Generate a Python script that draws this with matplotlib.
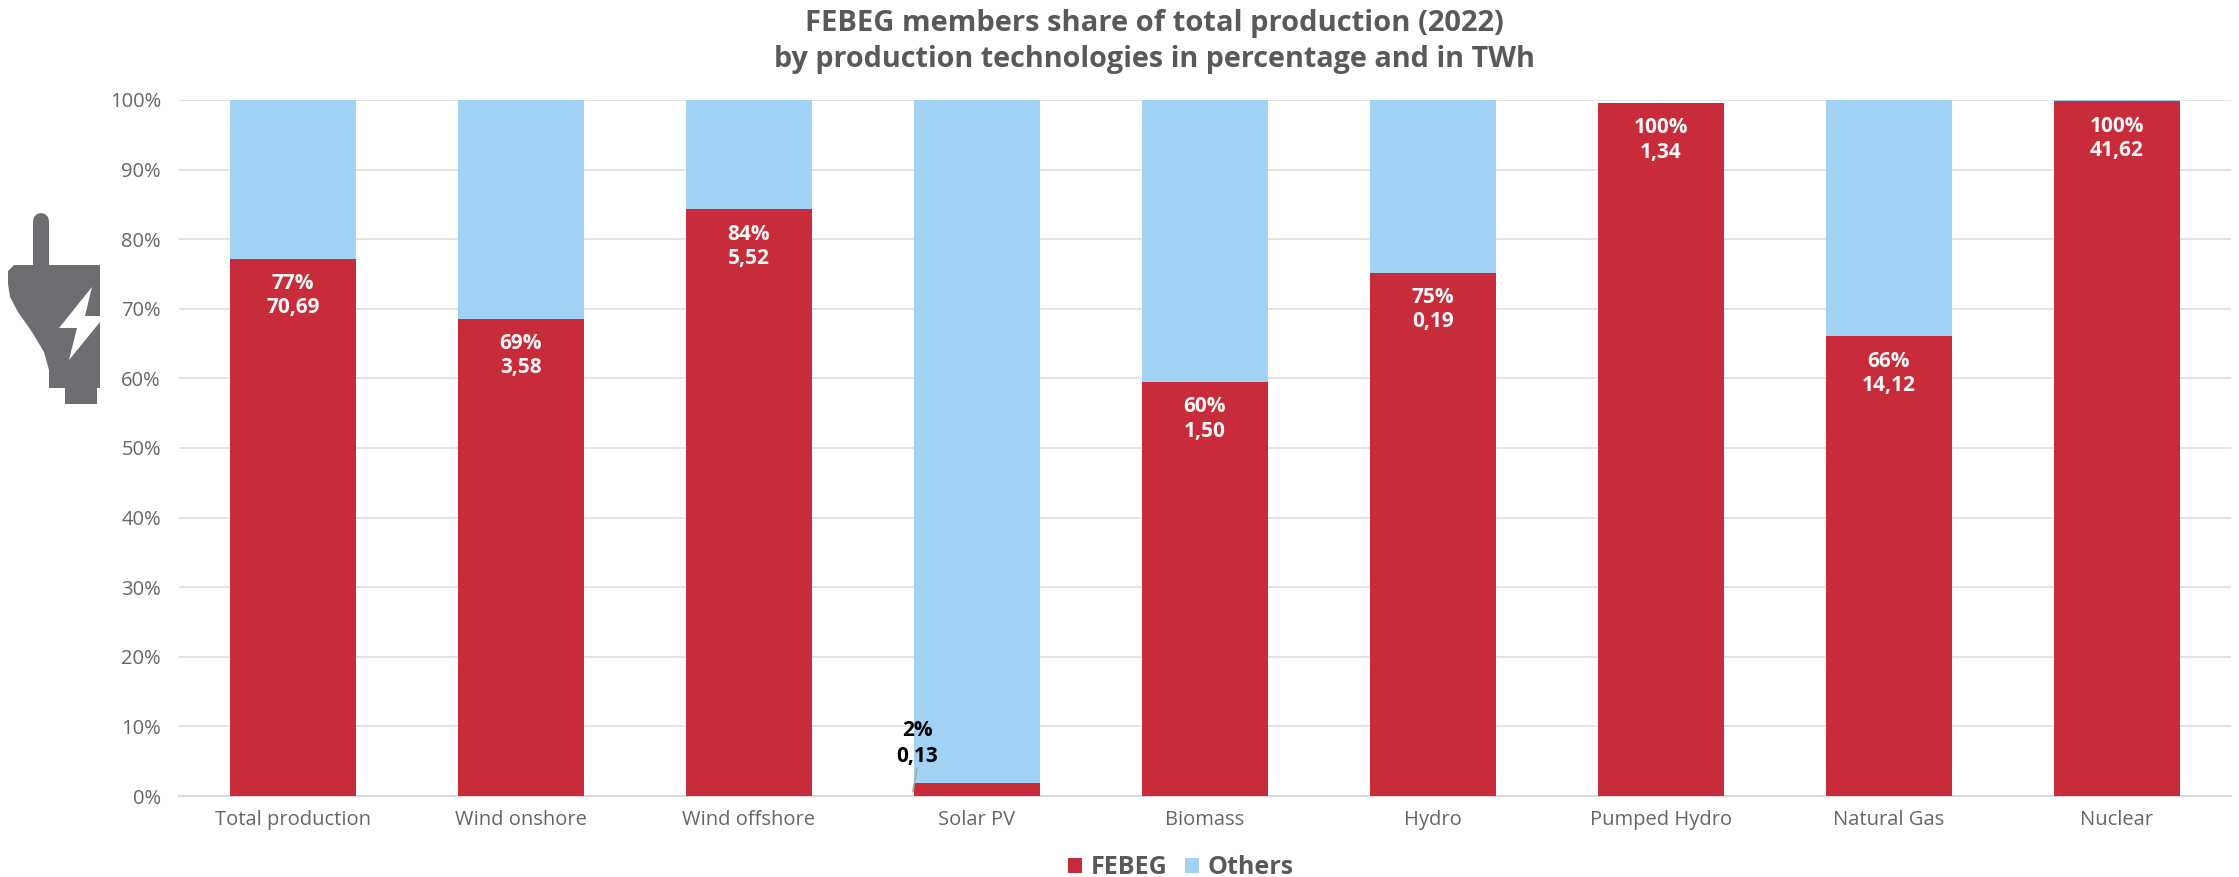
import matplotlib
matplotlib.use('Agg')
import matplotlib.pyplot as plt
from matplotlib.patches import Polygon, Rectangle
import numpy as np

# data
categories = ['Total production', 'Wind onshore', 'Wind offshore', 'Solar PV', 'Biomass',
              'Hydro', 'Pumped Hydro', 'Natural Gas', 'Nuclear']
febeg = [77.2, 68.6, 84.3, 1.8, 59.5, 75.2, 99.6, 66.1, 99.8]
others = [22.8, 31.4, 15.7, 98.2, 40.5, 24.8, 0.0, 33.9, 0.2]
pct_labels = ['77%', '69%', '84%', '2%', '60%', '75%', '100%', '66%', '100%']
twh_labels = ['70,69', '3,58', '5,52', '0,13', '1,50', '0,19', '1,34', '14,12', '41,62']

W, H = 2239, 877
RED = '#c82b39'
BLUE = '#a2d2f3'
GREY = '#595959'

plt.rcParams['font.family'] = ['Open Sans', 'DejaVu Sans']

fig = plt.figure(figsize=(W / 100, H / 100), dpi=100)
# axes placed in pixels of the reference
ax = fig.add_axes([179 / W, 1 - 796 / H, (2231 - 179) / W, (796 - 100) / H])

x = np.arange(len(categories))
ax.bar(x, febeg, width=0.553, color=RED, zorder=3, label='FEBEG')
ax.bar(x, others, width=0.553, bottom=febeg, color=BLUE, zorder=3, label='Others')

ax.set_xlim(-0.5, len(categories) - 0.5)
ax.set_ylim(0, 100)
ax.set_yticks(np.arange(0, 101, 10))
ax.set_yticklabels([str(v) + '%' for v in range(0, 101, 10)], fontsize=14.5, color='#666666')
ax.set_xticks(x)
ax.set_xticklabels(categories, fontsize=14.5, color='#666666')
ax.tick_params(axis='both', length=0)
ax.tick_params(axis='x', pad=10)
ax.tick_params(axis='y', pad=13)
ax.grid(axis='y', color='#e3e3e3', linewidth=1.4, zorder=0)
for s in ['top', 'right', 'left']:
    ax.spines[s].set_visible(False)
ax.spines['bottom'].set_color('#d9d9d9')
ax.spines['bottom'].set_linewidth(1.6)

# labels inside the bars
for i in range(len(categories)):
    if i == 3:
        continue
    ax.annotate(pct_labels[i] + '\n' + twh_labels[i], (x[i], febeg[i]), xytext=(0, -10.5),
                textcoords='offset points', ha='center', va='top', color='#f6f6f6',
                fontsize=15, fontweight='bold', linespacing=1.2, zorder=5)

# solar label sits outside, with a leader line
ax.text(917 / W, 1 - 767 / H, pct_labels[3] + '\n' + twh_labels[3], transform=fig.transFigure,
        ha='center', va='bottom', color='black', fontsize=15, fontweight='bold',
        linespacing=1.3, zorder=5)
ax.annotate('', (x[3] - 0.281, 0.6), xytext=(917 / W, 1 - 768 / H), textcoords='figure fraction',
            arrowprops=dict(arrowstyle='-', color='#a6a6a6', lw=1.2, shrinkA=0, shrinkB=0), zorder=5)

fig.text(1154 / W, 1 - 24 / H, 'FEBEG members share of total production (2022)',
         ha='center', va='center', fontsize=21, fontweight='bold', color=GREY)
fig.text(1154 / W, 1 - 60 / H, 'by production technologies in percentage and in TWh',
         ha='center', va='center', fontsize=20.7, fontweight='bold', color=GREY)

leg = ax.legend(loc='center', bbox_to_anchor=(1181 / W, 1 - 868 / H), bbox_transform=fig.transFigure,
                ncol=2, frameon=False, fontsize=18, handlelength=0.55, handleheight=0.55,
                handletextpad=0.35, columnspacing=0.7, borderpad=0)
for t in leg.get_texts():
    t.set_color(GREY)
    t.set_fontweight('bold')


# plug icon, drawn in reference pixels
def px(pts):
    return [(a / W, 1 - b / H) for a, b in pts]


ICON = '#6d6e71'
body = [(8, 271), (14, 265), (100, 265), (100, 388), (49, 388), (49, 370), (44, 352),
        (32, 332), (18, 312), (10, 297), (8, 284)]
fig.add_artist(Polygon(px(body), closed=True, color=ICON, transform=fig.transFigure, lw=0))
fig.add_artist(Rectangle((33 / W, 1 - 268 / H), 16 / W, 47 / H, color=ICON, transform=fig.transFigure, lw=0))
fig.add_artist(Polygon(px([(33, 221), (34, 217), (37, 214), (41, 213), (45, 214), (48, 217), (49, 221)]),
                       closed=True, color=ICON, transform=fig.transFigure, lw=0))
fig.add_artist(Rectangle((65 / W, 1 - 404 / H), 32 / W, 18 / H, color=ICON, transform=fig.transFigure, lw=0))
bolt = [(92, 287), (85, 316), (100, 316), (100, 322), (69, 360), (77, 328), (59, 328)]
fig.add_artist(Polygon(px(bolt), closed=True, color='white', transform=fig.transFigure, lw=0))

fig.savefig('out.png', dpi=100)
